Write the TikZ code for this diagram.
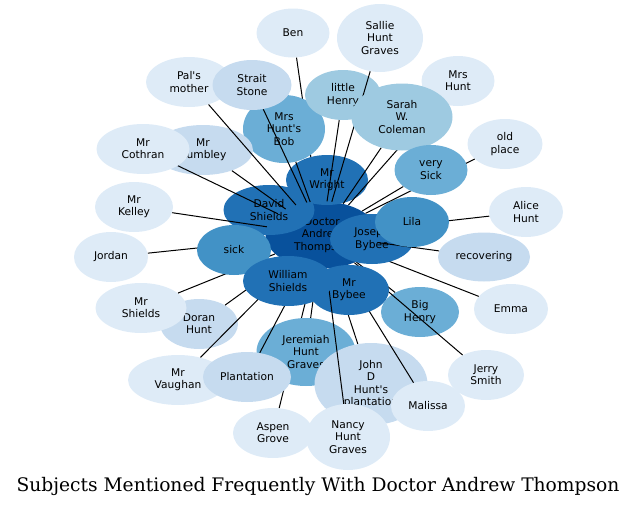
\documentclass[tikz,border=0pt]{standalone}
\usepackage{fontspec}
\setmainfont{DejaVu Sans}
\newfontfamily\titlefont{DejaVu Serif}
\usetikzlibrary{shapes.geometric}
\definecolor{shade1}{HTML}{DEEBF7}
\definecolor{shade2}{HTML}{C6DBEF}
\definecolor{shade3}{HTML}{9ECAE1}
\definecolor{shade4}{HTML}{6BAED6}
\definecolor{shade5}{HTML}{4292C6}
\definecolor{shade6}{HTML}{2171B5}
\definecolor{shade7}{HTML}{08519C}
\tikzset{
  subj/.style={ellipse,inner sep=0pt,align=center,
    minimum width=54pt,minimum height=37.5pt,
    font=\fontsize{8}{9.2}\selectfont},
  sz/.style 2 args={minimum width=#1*0.75pt,minimum height=#2*0.75pt},
  lv1/.style={subj,fill=shade1},
  lv2/.style={subj,fill=shade2},
  lv3/.style={subj,fill=shade3},
  lv4/.style={subj,fill=shade4},
  lv5/.style={subj,fill=shade5},
  lv6/.style={subj,fill=shade6},
  lv7/.style={subj,fill=shade7},
  link/.style={line width=0.75pt}
}
\begin{document}
\begin{tikzpicture}[x=0.75pt,y=-0.75pt]
\useasboundingbox (0,0) rectangle (637,507);

% hub and the nodes lying on it
\node[lv7,sz={113}{67}] (thompson) at (322,235) {Doctor\\Andrew\\Thompson};
\node[lv6,sz={91}{50}] (davidshields) at (269,210) {David\\Shields};

% each subject is drawn, then its link to the hub
\node[lv1,sz={73}{49}] (ben) at (293,33) {Ben};
\draw[link] (thompson) -- (ben);
\node[lv1,sz={80}{50}] (aspen) at (273,433) {Aspen\\Grove};
\draw[link] (thompson) -- (aspen);
\node[lv1,sz={74}{50}] (jordan) at (111,257) {Jordan};
\draw[link] (thompson) -- (jordan);
\node[lv2,sz={78}{50}] (doran) at (199,324) {Doran\\Hunt};
\draw[link] (thompson) -- (doran);
\node[lv1,sz={91}{50}] (mrshields) at (141,308) {Mr\\Shields};
\draw[link] (thompson) -- (mrshields);
\node[lv1,sz={100}{50}] (vaughan) at (178,380) {Mr\\Vaughan};
\draw[link] (thompson) -- (vaughan);
\node[lv4,sz={99}{68}] (jeremiah) at (306,352) {Jeremiah\\Hunt\\Graves};
\draw[link] (thompson) -- (jeremiah);
\node[lv2,sz={88}{50}] (plantation) at (247,377) {Plantation};
\draw[link] (thompson) -- (plantation);
\node[lv2,sz={113}{82}] (johnd) at (371,384) {John\\D\\Hunt\textquotesingle s\\plantation};
\draw[link] (thompson) -- (johnd);
\node[lv1,sz={74}{50}] (malissa) at (428,406) {Malissa};
\draw[link] (thompson) -- (malissa);
\node[lv4,sz={78}{50}] (bighenry) at (420,312) {Big\\Henry};
\draw[link] (thompson) -- (bighenry);
\node[lv1,sz={76}{50}] (jerry) at (486,375) {Jerry\\Smith};
\draw[link] (thompson) -- (jerry);
\node[lv6,sz={80}{50}] (mrbybee) at (349,290) {Mr\\Bybee};
\node[lv1,sz={84}{66}] (nancy) at (348,437) {Nancy\\Hunt\\Graves};
\draw[link] (thompson) -- (nancy);
\node[lv5,sz={74}{50}] (sick) at (234,250) {sick};
\node[lv6,sz={90}{50}] (williamshields) at (288,281) {William\\Shields};
\node[lv1,sz={74}{50}] (emma) at (511,309) {Emma};
\draw[link] (thompson) -- (emma);
\node[lv6,sz={84}{50}] (josephbybee) at (372,239) {Joseph\\Bybee};
\node[lv2,sz={92}{49}] (recovering) at (484,257) {recovering};
\draw[link] (thompson) -- (recovering);
\node[lv1,sz={74}{50}] (alice) at (526,212) {Alice\\Hunt};
\draw[link] (thompson) -- (alice);
\node[lv5,sz={74}{50}] (lila) at (412,222) {Lila};
\node[lv1,sz={75}{50}] (oldplace) at (505,144) {old\\place};
\draw[link] (thompson) -- (oldplace);
\node[lv6,sz={82}{50}] (wright) at (327,180) {Mr\\Wright};
\node[lv4,sz={82}{68}] (hunsbob) at (284,129) {Mrs\\Hunt\textquotesingle s\\Bob};
\draw[link] (thompson) -- (hunsbob);
\node[lv3,sz={76}{50}] (littlehenry) at (343,95) {little\\Henry};
\draw[link] (thompson) -- (littlehenry);
\node[lv1,sz={86}{68}] (sallie) at (380,38) {Sallie\\Hunt\\Graves};
\draw[link] (thompson) -- (sallie);
\node[lv1,sz={73}{50}] (mrshunt) at (458,81) {Mrs\\Hunt};
\draw[link] (thompson) -- (mrshunt);
\node[lv3,sz={101}{67}] (sarah) at (402,117) {Sarah\\W.\\Coleman};
\draw[link] (thompson) -- (sarah);
\node[lv4,sz={73}{50}] (verysick) at (431,170) {very\\Sick};
\draw[link] (thompson) -- (verysick);
\node[lv2,sz={100}{50}] (rumbley) at (203,150) {Mr\\Rumbley};
\draw[link] (thompson) -- (rumbley);
\node[lv1,sz={86}{50}] (palsmother) at (189,82) {Pal\textquotesingle s\\mother};
\draw[link] (thompson) -- (palsmother);
\node[lv2,sz={79}{50}] (strait) at (252,85) {Strait\\Stone};
\draw[link] (thompson) -- (strait);
\node[lv1,sz={93}{50}] (cothran) at (143,149) {Mr\\Cothran};
\draw[link] (thompson) -- (cothran);
\node[lv1,sz={78}{50}] (kelley) at (134,207) {Mr\\Kelley};
\draw[link] (thompson) -- (kelley);

% title
\node[font=\titlefont\fontsize{14}{16}\selectfont] (title) at (318,486)
  {Subjects Mentioned Frequently With Doctor Andrew Thompson};
\end{tikzpicture}
\end{document}
